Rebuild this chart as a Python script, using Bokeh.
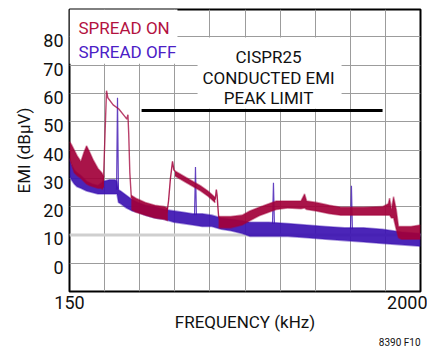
from bokeh.plotting import figure
from bokeh.models import Range1d, FixedTicker, Label, Span, Title, LinearAxis, Grid
from bokeh.embed import file_html
from bokeh.resources import INLINE

FONT = "Roboto"
RED = "#a2003a"
BLUE = "#3c12b2"
RED_TXT = "#b3123f"
BLUE_TXT = "#4b20c6"
TXT = "#111111"

XMIN, XMAX = 150, 2000
YMIN, YMAX = -10, 89.7
Y_TICKS = [0, 10, 20, 30, 40, 50, 60, 70, 80]
X_TICKS = [XMIN, XMAX]
X_DIV = 10

# ---- SPREAD OFF (blue) : noise band envelope (kHz, dBuV)
off_f = [150, 160, 175, 190, 210, 240, 270, 300, 330, 360, 390, 400, 408, 420, 450,
         480, 510, 550, 600, 650, 700, 750, 800, 850, 900, 950, 1000, 1060, 1100,
         1200, 1300, 1400, 1500, 1600, 1700, 1800, 1900, 2000]
off_hi = [37, 35, 33, 32, 31, 29, 28, 27.5, 29, 29.5, 29.5, 29, 26, 25.5, 24,
          22.5, 21.5, 20.5, 20, 19, 18.5, 18, 17.5, 17.5, 17, 16, 15.5, 15, 14.5,
          14.5, 14, 13.5, 13, 12.5, 12.5, 12, 11, 10.5]
off_lo = [31, 29.5, 28, 27, 26.5, 25.5, 25, 24.5, 24.5, 24.5, 24.5, 24.5, 21.5, 21, 19.5,
          18.5, 18, 17, 16, 15.5, 14.5, 14, 13.5, 13, 13, 12, 11.5, 10.5, 9.5,
          9.5, 9.5, 9, 8.5, 8, 7.5, 7, 6.5, 6]
# spread-off harmonic spikes
spike_f = [403, 814, 1225, 1636]
spike_peak = [58.5, 34, 28.4, 27.4]
spike_base = [26, 17, 14, 12]
SPIKE_HALF = 5

# ---- SPREAD ON (red)
onA_f = [150, 160, 175, 190, 210, 225, 240, 255, 275, 300, 320, 332]
onA_hi = [43, 42, 40, 38, 36, 39, 41.5, 39.5, 36.5, 33.5, 32, 30.5]
onA_lo = [37, 35, 32, 31, 30, 29, 28, 27.5, 27, 26.5, 26.5, 27]

onB_f = [322, 329, 337, 345, 352, 380, 410, 440, 452, 458, 462, 468, 476]
onB_db = [26, 30, 45, 61, 58.5, 56, 54.5, 52, 51, 52.5, 46, 32, 23]

onC_f = [476, 500, 550, 600, 650, 668]
onC_hi = [24, 23, 21.5, 20.5, 20, 19.5]
onC_lo = [19, 18, 17, 16, 15.5, 15]

onD_edge_f = [664, 672, 682, 693, 700, 706]
onD_edge_db = [18, 22, 30, 36, 33, 32.5]
onD_f = [706, 760, 840, 880, 918]
onD_hi = [32.6, 30.5, 27.4, 25.5, 23.2]
onD_lo = [30.8, 28.7, 25.6, 23.7, 21.4]
onF_edge_f = [918, 924, 928, 932, 936, 942]
onF_edge_db = [22.5, 26, 24, 20, 16.5, 15.5]

onE_f = [936, 1000, 1060, 1100, 1150, 1200, 1240, 1300, 1370, 1389, 1400, 1450, 1520,
         1580, 1700, 1800, 1830, 1837, 1847, 1858, 1872, 1884, 1900, 1950, 2000]
onE_hi = [16.5, 16.5, 17, 18.5, 19.8, 21, 22, 22, 22, 24.5, 22, 21.5, 20.5,
          19.8, 19.8, 20, 21, 23, 19, 23.5, 19, 13, 13, 13, 13.5]
onE_lo = [12.5, 12.5, 13.5, 15, 16.8, 18, 19, 19.5, 19.3, 19.5, 19, 18.5, 17.5,
          17, 17, 17, 17, 17, 16, 16, 12, 9, 8.5, 8.5, 8.5]

LIMIT_F = [530, 1800]
LIMIT_DB = 54

legend_labels = ["SPREAD ON", "SPREAD OFF"]
legend_db = [81.1, 72.6]
limit_text = ["CISPR25", "CONDUCTED EMI", "PEAK LIMIT"]
limit_text_db = [70.8, 63.4, 56.4]
LIMIT_TEXT_F = 1199
# white background boxes (kHz, dB)
LEG_BOX = (150, 719, 70.5, 90)
TXT_BOX = (825, 1584, 54.6, 79.8)

# label placement tweaks (layout only)
LABEL_LIFT = 6          # px
Y_LABEL_SHIFT = 1.4     # dB: tick labels sit slightly below their grid lines

p = figure(width=427, height=347, output_backend="svg", toolbar_location=None,
           x_range=Range1d(XMIN, XMAX), y_range=Range1d(YMIN, YMAX),
           x_axis_location=None, y_axis_location=None,
           min_border_left=69, min_border_right=7, min_border_top=9, min_border_bottom=56)
p.center = [r for r in p.center if not isinstance(r, Grid)]
p.background_fill_color = "white"
p.border_fill_color = "white"
p.outline_line_color = "black"
p.outline_line_width = 2

step = (XMAX - XMIN) / X_DIV
p.add_layout(Grid(dimension=0, ticker=FixedTicker(ticks=[XMIN + step * i for i in range(1, X_DIV)]),
                  grid_line_color="#9c9c9c", grid_line_width=1))
p.add_layout(Grid(dimension=1, ticker=FixedTicker(ticks=Y_TICKS),
                  grid_line_color="#9c9c9c", grid_line_width=1))
p.add_layout(Span(location=10, dimension="width", line_color="#cfcfcf",
                  line_width=3, level="underlay"))

# white boxes hiding grid behind texts
p.quad(left=[LEG_BOX[0], TXT_BOX[0]], right=[LEG_BOX[1], TXT_BOX[1]],
       bottom=[LEG_BOX[2], TXT_BOX[2]], top=[LEG_BOX[3], TXT_BOX[3]],
       fill_color="white", line_color=None)

# y axis
p.extra_y_ranges = {"lab": Range1d(YMIN + Y_LABEL_SHIFT, YMAX + Y_LABEL_SHIFT)}
ya = LinearAxis(y_range_name="lab", ticker=FixedTicker(ticks=Y_TICKS))
ya.axis_line_color = None
ya.major_tick_line_color = None
ya.minor_tick_line_color = None
ya.major_tick_out = 0
ya.major_label_text_font = FONT
ya.major_label_text_font_size = "18px"
ya.major_label_text_color = TXT
ya.major_label_standoff = 6
ya.axis_label = "EMI (dBµV)"
ya.axis_label_text_font = FONT
ya.axis_label_text_font_size = "17px"
ya.axis_label_text_font_style = "normal"
ya.axis_label_text_color = TXT
ya.axis_label_standoff = 6
p.add_layout(ya, "left")

# x axis
xa = LinearAxis(ticker=FixedTicker(ticks=X_TICKS))
xa.axis_line_color = None
xa.major_tick_line_color = None
xa.minor_tick_line_color = None
xa.major_tick_out = 0
xa.major_tick_in = 0
xa.major_label_text_font = FONT
xa.major_label_text_font_size = "18px"
xa.major_label_text_color = TXT
xa.major_label_standoff = 4
xa.axis_label = "FREQUENCY (kHz)"
xa.axis_label_text_font = FONT
xa.axis_label_text_font_size = "17px"
xa.axis_label_text_font_style = "normal"
xa.axis_label_text_color = TXT
xa.axis_label_standoff = 0
p.add_layout(xa, "below")

p.add_layout(Title(text="8390 F10", align="right", text_font=FONT, text_font_size="10px",
                   text_font_style="normal", text_color=TXT, standoff=0), "below")

def band(f, lo, hi, color):
    p.varea(x=f, y1=lo, y2=hi, fill_color=color, fill_alpha=0.92)
    p.line(f, hi, line_color=color, line_alpha=0.45, line_width=1.6)
    p.line(f, lo, line_color=color, line_alpha=0.45, line_width=1.6)

# spread off (blue)
band(off_f, off_lo, off_hi, BLUE)
p.multi_line(xs=[[f - SPIKE_HALF, f, f + SPIKE_HALF] for f in spike_f],
             ys=[[b, pk, b] for b, pk in zip(spike_base, spike_peak)],
             line_color=BLUE, line_width=1.2, line_alpha=0.8)

# spread on (red)
band(onA_f, onA_lo, onA_hi, RED)
p.line(onB_f, onB_db, line_color=RED, line_width=1.4, line_alpha=0.75)
band(onC_f, onC_lo, onC_hi, RED)
p.line(onD_edge_f, onD_edge_db, line_color=RED, line_width=1.4, line_alpha=0.85)
band(onD_f, onD_lo, onD_hi, RED)
p.line(onF_edge_f, onF_edge_db, line_color=RED, line_width=1.4, line_alpha=0.85)
band(onE_f, onE_lo, onE_hi, RED)

# limit line
p.line(LIMIT_F, [LIMIT_DB, LIMIT_DB], line_color="black", line_width=3)

# texts inside the plot
for t, d, c in zip(legend_labels, legend_db, [RED_TXT, BLUE_TXT]):
    p.add_layout(Label(x=XMIN, y=d, x_offset=9, y_offset=LABEL_LIFT, text=t, text_color=c,
                       text_font=FONT, text_font_size="17px",
                       text_baseline="alphabetic", text_align="left"))
for t, d in zip(limit_text, limit_text_db):
    p.add_layout(Label(x=LIMIT_TEXT_F, y=d, y_offset=LABEL_LIFT, text=t, text_color=TXT,
                       text_font=FONT, text_font_size="17px",
                       text_baseline="alphabetic", text_align="center"))

open("out.html", "w").write(file_html(p, INLINE))
